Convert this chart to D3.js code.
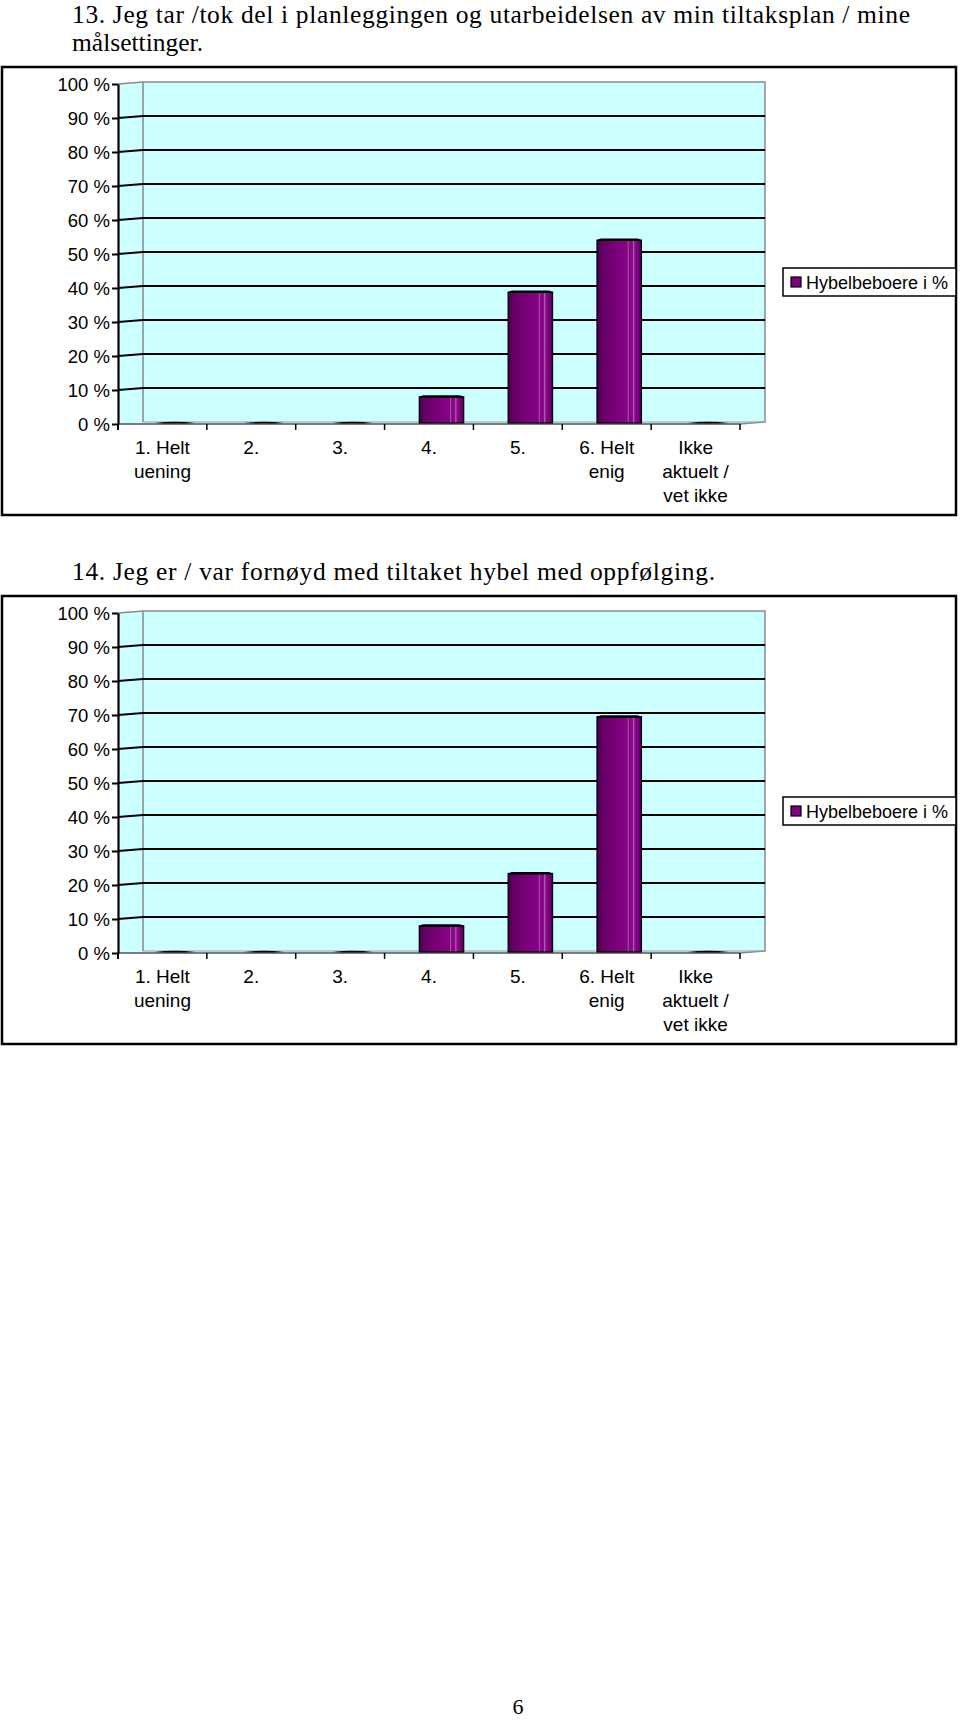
<!DOCTYPE html>
<html><head><meta charset="utf-8">
<script src="https://cdn.jsdelivr.net/npm/d3@7"></script>
<style>body{margin:0;background:#fff}svg{display:block}</style>
</head><body>
<script>
const categories = [["1. Helt","uening"],["2."],["3."],["4."],["5."],["6. Helt","enig"],["Ikke","aktuelt /","vet ikke"]];
const catKeys = ["c1","c2","c3","c4","c5","c6","c7"];
const values13 = [0, 0, 0, 7.7, 38.5, 53.8, 0];
const values14 = [0, 0, 0, 7.7, 23.1, 69.2, 0];
const yTicks = [0,10,20,30,40,50,60,70,80,90,100];
const title13 = ["13. Jeg tar /tok del i planleggingen og utarbeidelsen av min tiltaksplan / mine", "målsettinger."];
const title14 = ["14. Jeg er / var fornøyd med tiltaket hybel med oppfølging."];
const seriesName = "Hybelbeboere i %";
const pageNumber = "6";

const W = 960, H = 1720;
const svg = d3.select("body").append("svg").attr("width", W).attr("height", H);
const defs = svg.append("defs");
const grad = defs.append("linearGradient").attr("id","barGrad").attr("x1","0").attr("x2","1").attr("y1","0").attr("y2","0");
[[0,"#4a004a"],[0.12,"#640064"],[0.45,"#7c007c"],[0.68,"#850585"],[0.7,"#a850a8"],[0.73,"#850585"],[0.8,"#8a0a8a"],[0.82,"#b060b0"],[0.85,"#8a0a8a"],[0.93,"#780078"],[1,"#4a004a"]]
  .forEach(([o,c]) => grad.append("stop").attr("offset",o).attr("stop-color",c));

const DX = 25, DY = -2;
const sans = "'Liberation Sans', Arial, sans-serif";
const serif = "'Liberation Serif', 'Times New Roman', serif";

function drawChart(offY, titleLines, values, titleTop, titleWidths) {
  const g = svg.append("g").attr("transform", `translate(0,${offY})`);
  titleLines.forEach((t, i) => {
    const tt = svg.append("text").attr("x", 72).attr("y", titleTop + i * 28)
      .attr("font-family", serif).attr("font-size", 25.5).attr("fill", "#000").text(t);
    if (titleWidths[i]) tt.attr("textLength", titleWidths[i]).attr("lengthAdjust", "spacing");
  });
  g.append("rect").attr("x", 2).attr("y", 67).attr("width", 954).attr("height", 448)
    .attr("fill", "none").attr("stroke", "#000").attr("stroke-width", 2.5);

  const x = d3.scaleBand().domain(catKeys).range([118, 740]).paddingInner(0).paddingOuter(0);
  const y = d3.scaleLinear().domain([0, 100]).range([424, 84]);
  const x0 = x.range()[0], x1 = x.range()[1];

  g.append("path").attr("fill", "#ccffff")
    .attr("d", `M${x0},${y(100)} L${x0+DX},${y(100)+DY} L${x1+DX},${y(100)+DY} L${x1+DX},${y(0)+DY} L${x1},${y(0)} L${x0},${y(0)} Z`);
  g.append("line").attr("x1", x0+DX).attr("x2", x0+DX).attr("y1", y(100)+DY).attr("y2", y(0)+DY)
    .attr("stroke", "#8a8a8a").attr("stroke-width", 1.5);
  g.append("path").attr("fill","none").attr("stroke","#8a8a8a").attr("stroke-width",1.5)
    .attr("d", `M${x0},${y(100)} L${x0+DX},${y(100)+DY} L${x1+DX},${y(100)+DY} L${x1+DX},${y(0)+DY} L${x1},${y(0)}`);
  g.append("line").attr("x1", x0+DX).attr("x2", x1+DX).attr("y1", y(0)+DY).attr("y2", y(0)+DY)
    .attr("stroke", "#9a9a9a").attr("stroke-width", 1);

  g.selectAll(".grid").data(yTicks.filter(t => t > 0 && t < 100)).join("path")
    .attr("fill","none").attr("stroke","#000").attr("stroke-width",2)
    .attr("d", t => `M${x0},${y(t)} L${x0+DX},${y(t)+DY} L${x1+DX},${y(t)+DY}`);

  g.append("line").attr("x1", x0).attr("x2", x1).attr("y1", y(0)).attr("y2", y(0))
    .attr("stroke", "#555").attr("stroke-width", 1.5);

  const bw = x.bandwidth() / 2;
  const bx = k => x(k) + x.bandwidth() / 4 + DX / 2;
  const base = y(0) + DY / 2;
  const data = catKeys.map((k, i) => ({k, v: values[i]}));
  data.forEach(d => {
    const top = y(d.v) + DY / 2;
    if (d.v > 0) {
      g.append("rect").attr("x", bx(d.k)).attr("y", top).attr("width", bw).attr("height", base - top)
        .attr("fill", "url(#barGrad)").attr("stroke", "#000").attr("stroke-width", 1.2);
      g.append("path").attr("fill", "#000")
        .attr("d", `M${bx(d.k)},${top+1} Q${bx(d.k)+1},${top-1.5} ${bx(d.k)+4},${top-1.5} L${bx(d.k)+bw-4},${top-1.5} Q${bx(d.k)+bw-1},${top-1.5} ${bx(d.k)+bw},${top+1} Z`);
    } else {
      g.append("path").attr("fill", "#000")
        .attr("d", `M${bx(d.k)+2},${base} Q${bx(d.k)+bw/2},${base-2.5} ${bx(d.k)+bw-2},${base} Q${bx(d.k)+bw/2},${base+1} ${bx(d.k)+2},${base} Z`);
    }
  });

  const ya = d3.axisLeft(y).tickValues(yTicks).tickFormat(d => d + " %").tickSize(6).tickSizeOuter(0);
  const yg = g.append("g").attr("transform", `translate(${x0},0)`).call(ya);
  yg.select(".domain").attr("stroke", "#000").attr("stroke-width", 2.2);
  yg.selectAll(".tick line").attr("stroke", "#000").attr("stroke-width", 2);
  yg.selectAll(".tick text").attr("font-family", sans).attr("font-size", 18.5).attr("fill", "#000").attr("x", -8).attr("dy", "0.35em");
  g.append("line").attr("x1", x0).attr("x2", x0).attr("y1", y(0)).attr("y2", y(0)+6).attr("stroke","#000").attr("stroke-width",2);

  const bounds = catKeys.map(k => x(k)).concat([x1]).slice(1);
  g.selectAll(".xt").data(bounds).join("line")
    .attr("x1", d => d).attr("x2", d => d).attr("y1", y(0)).attr("y2", y(0) + 6)
    .attr("stroke", "#000").attr("stroke-width", 1.5);

  catKeys.forEach((k, i) => {
    const t = g.append("text").attr("font-family", sans).attr("font-size", 19).attr("fill", "#000")
      .attr("text-anchor", "middle");
    categories[i].forEach((line, j) => {
      t.append("tspan").attr("x", x(k) + x.bandwidth() / 2).attr("y", 454 + j * 24).text(line);
    });
  });

  g.append("rect").attr("x", 783).attr("y", 268).attr("width", 173).attr("height", 28)
    .attr("fill", "#fff").attr("stroke", "#000").attr("stroke-width", 1.5);
  g.append("rect").attr("x", 791).attr("y", 277).attr("width", 10).attr("height", 10)
    .attr("fill", "#800080").attr("stroke", "#000").attr("stroke-width", 1.2);
  g.append("text").attr("x", 806).attr("y", 289).attr("font-family", sans).attr("font-size", 18)
    .attr("fill", "#000").text(seriesName);
}

drawChart(0, title13, values13, 23, [838, 0]);
drawChart(529, title14, values14, 580, [643]);

svg.append("text").attr("x", 518).attr("y", 1714).attr("text-anchor", "middle")
  .attr("font-family", serif).attr("font-size", 22).attr("fill", "#000").text(pageNumber);
</script>
</body></html>
